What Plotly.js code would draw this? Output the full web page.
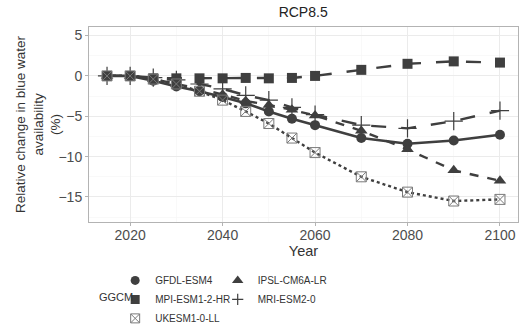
<!DOCTYPE html>
<html>
<head>
<meta charset="utf-8">
<script src="https://cdn.plot.ly/plotly-3.0.1.min.js"></script>
<style>html,body{margin:0;padding:0;background:#fff}#chart{width:521px;height:336px}</style>
</head>
<body>
<div id="chart"></div>
<script>
const years = [2015, 2020, 2025, 2030, 2035, 2040, 2045, 2050, 2055, 2060, 2070, 2080, 2090, 2100];
const gfdl  = [0, 0, -0.6, -1.3, -1.9, -2.6, -3.4, -4.4, -5.3, -6.1, -7.7, -8.4, -8.0, -7.3];
const ipsl  = [0, 0, -0.4, -1.0, -1.6, -2.3, -3.1, -3.6, -4.2, -4.9, -6.8, -9.1, -11.7, -13.0];
const mpi   = [0, 0, -0.3, -0.3, -0.3, -0.3, -0.25, -0.3, -0.25, 0, 0.75, 1.5, 1.8, 1.65];
const mri   = [0, 0, -0.2, -0.5, -1.0, -1.6, -2.4, -3.0, -3.9, -4.8, -6.1, -6.5, -5.6, -4.3];
const ukesm = [0, 0, -0.4, -1.0, -1.9, -3.0, -4.4, -5.9, -7.7, -9.5, -12.5, -14.4, -15.5, -15.3];
const names = ["GFDL-ESM4", "IPSL-CM6A-LR", "MPI-ESM1-2-HR", "MRI-ESM2-0", "UKESM1-0-LL"];

const col = "#3f3f3f";
const series = [gfdl, ipsl, mpi, mri, ukesm];
const dashes = ["solid", "dash", "longdash", "longdash", "dot"];
const symbols = ["circle", "triangle-up", "square", "cross-thin", "square-x-open"];
const sizes = [10, 11, 10, 13, 10];
const legendIds = ["legend", "legend2", "legend", "legend2", "legend"];

function markerFor(i, s) {
  return {symbol: symbols[i], size: s,
    color: i === 4 ? "#7a7a7a" : col,
    line: {color: i === 4 ? "#7a7a7a" : col, width: i === 3 ? 1.2 : (i === 4 ? 1 : 0)}};
}

const traces = series.map((vals, i) => ({
  x: years, y: vals, name: names[i], type: "scatter", mode: "lines+markers",
  line: {color: col, width: i === 0 ? 2.6 : 2.4, dash: dashes[i]},
  marker: markerFor(i, sizes[i]),
  showlegend: false
}));

// legend keys (markers only, as in the reference legend)
const keys = names.map((n, i) => ({
  x: [null], y: [null], name: n, type: "scatter", mode: "markers",
  marker: markerFor(i, [9, 10, 9, 8, 9][i]), legend: legendIds[i], showlegend: true
}));

const tickFont = {family: "Liberation Sans, Arial, sans-serif", size: 14, color: "#4d4d4d"};
const legendFont = {family: "Liberation Sans, Arial, sans-serif", size: 10, color: "#333"};

const layout = {
  width: 521, height: 336,
  margin: {l: 89, r: 3, t: 27, b: 105},
  paper_bgcolor: "#fff", plot_bgcolor: "#fff",
  font: {family: "Liberation Sans, Arial, sans-serif", color: "#333"},
  title: {text: "RCP8.5", x: 0.5819, xanchor: "center", y: 0.965, yanchor: "middle",
          font: {size: 14, color: "#222"}},
  xaxis: {
    range: [2011.1, 2103.9], tickvals: [2020, 2040, 2060, 2080, 2100],
    ticks: "outside", ticklen: 3, tickcolor: "#b3b3b3", ticklabelstandoff: -3,
    tickfont: tickFont, showgrid: true, gridcolor: "#ebebeb", gridwidth: 1,
    minor: {tickvals: [2030, 2050, 2070, 2090], showgrid: true, gridcolor: "#f5f5f5", gridwidth: 0.6},
    zeroline: false, showline: true, mirror: true, linecolor: "#b3b3b3", linewidth: 1,
    title: {text: "Year", font: {size: 14.5, color: "#333"}, standoff: 3}
  },
  yaxis: {
    range: [-18.1, 6.06], tickvals: [-15, -10, -5, 0, 5],
    ticks: "outside", ticklen: 3, tickcolor: "#b3b3b3",
    tickfont: tickFont, showgrid: true, gridcolor: "#ebebeb", gridwidth: 1,
    minor: {tickvals: [-17.5, -12.5, -7.5, -2.5, 2.5], showgrid: true, gridcolor: "#f5f5f5", gridwidth: 0.6},
    zeroline: false, showline: true, mirror: true, linecolor: "#b3b3b3", linewidth: 1
  },
  legend: {orientation: "v", x: 0.061, xanchor: "left", y: -0.225, yanchor: "top",
           font: legendFont, tracegroupgap: 0, bgcolor: "rgba(0,0,0,0)", itemwidth: 30},
  legend2: {orientation: "v", x: 0.30, xanchor: "left", y: -0.225, yanchor: "top",
           font: legendFont, tracegroupgap: 0, bgcolor: "rgba(0,0,0,0)", itemwidth: 30},
  annotations: [
    {text: "GGCM", xref: "paper", yref: "paper", x: 0.018, y: -0.385,
     xanchor: "left", yanchor: "middle", showarrow: false, font: {size: 11, color: "#333"}},
    {text: "Relative change in blue water<br>availability<br>(%)", xref: "paper", yref: "paper",
     x: -0.12, y: 0.5, xanchor: "center", yanchor: "middle", textangle: -90, showarrow: false,
     font: {size: 13.5, color: "#333"}}
  ]
};

Plotly.newPlot("chart", traces.concat(keys), layout, {displayModeBar: false, staticPlot: true});
</script>
</body>
</html>
